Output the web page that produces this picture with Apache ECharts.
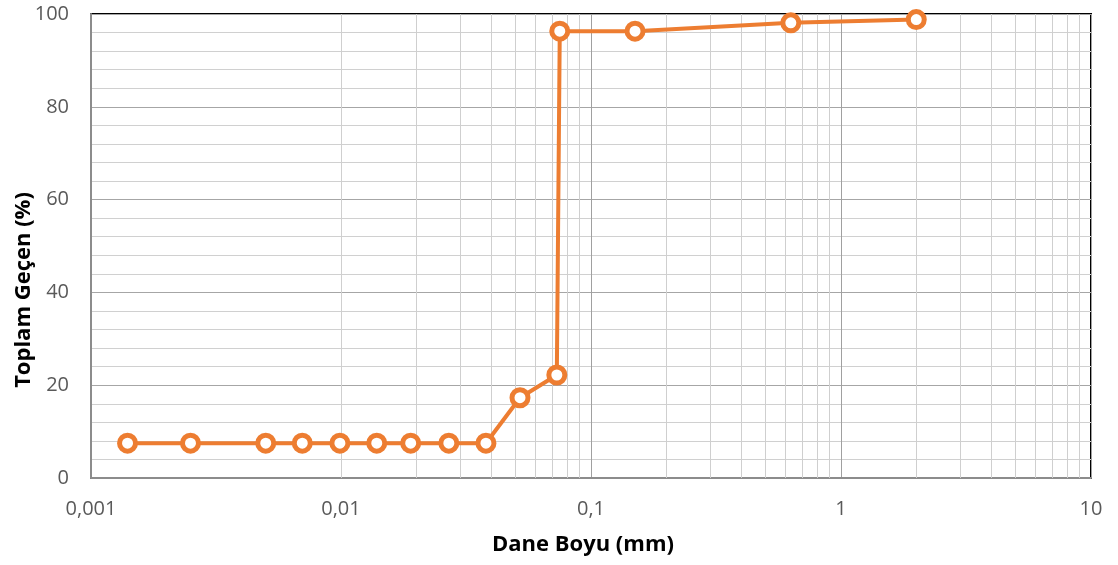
<!DOCTYPE html>
<html>
<head>
<meta charset="utf-8">
<script src="https://cdn.jsdelivr.net/npm/echarts@6/dist/echarts.min.js"></script>
<style>html,body{margin:0;padding:0;background:#fff}#c{width:1118px;height:565px}</style>
</head>
<body>
<div id="c"></div>
<script>
// Data
var grainSize = [0.0014, 0.0025, 0.005, 0.007, 0.0099, 0.0139, 0.019, 0.027, 0.038, 0.052, 0.073, 0.075, 0.15, 0.63, 2.0];
var passing   = [7.5, 7.5, 7.5, 7.5, 7.5, 7.5, 7.5, 7.5, 7.5, 17.3, 22.2, 96.3, 96.3, 98.1, 98.8];
var xTickLabels = ['0,001', '0,01', '0,1', '1', '10'];
var yTickLabels = ['0', '20', '40', '60', '80', '100'];
var xTitle = 'Dane Boyu (mm)';
var yTitle = 'Toplam Geçen (%)';
var decades = [0.001, 0.01, 0.1, 1];
var minorMultipliers = [2, 3, 4, 5, 6, 7, 8, 9];

var minorGridX = [];
decades.forEach(function (d) {
  minorMultipliers.forEach(function (m) { minorGridX.push({ xAxis: +(d * m).toPrecision(3) }); });
});

var seriesData = grainSize.map(function (x, i) { return [x, passing[i]]; });

var chart = echarts.init(document.getElementById('c'), null, { renderer: 'canvas' });
var FONT = 'Open Sans';
chart.setOption({
  animation: false,
  backgroundColor: '#fff',
  grid: { left: 91, right: 27, top: 14, bottom: 87, outerBoundsMode: 'none', containLabel: false,
          show: true, borderColor: '#000', borderWidth: 2, backgroundColor: 'transparent' },
  xAxis: {
    type: 'log', logBase: 10, min: 0.001, max: 10,
    name: xTitle, nameLocation: 'middle', nameGap: 56, nameMoveOverlap: false,
    nameTextStyle: { fontFamily: FONT, fontSize: 22, fontWeight: 'bold', color: '#000', padding: [0, 16, 0, 0] },
    axisLine: { show: true, lineStyle: { color: '#8c8c8c', width: 2 } },
    axisTick: { show: false },
    axisLabel: {
      fontFamily: FONT, fontSize: 20, color: '#595959', margin: 21,
      formatter: function (v) { var i = Math.round(Math.log10(v)) + 3; return xTickLabels[i] || ''; }
    },
    splitLine: { show: true, lineStyle: { color: '#a0a0a0', width: 1 } }
  },
  yAxis: {
    type: 'value', min: 0, max: 100, interval: 20,
    name: yTitle, nameLocation: 'middle', nameGap: 56, nameRotate: 90, nameMoveOverlap: false,
    nameTextStyle: { fontFamily: FONT, fontSize: 22, fontWeight: 'bold', color: '#000', padding: [0, 88, 0, 0] },
    axisLine: { show: true, lineStyle: { color: '#8c8c8c', width: 2 } },
    axisTick: { show: false },
    axisLabel: {
      fontFamily: FONT, fontSize: 20, color: '#595959', margin: 22,
      formatter: function (v) { return yTickLabels[Math.round(v / 20)]; }
    },
    splitLine: { show: true, lineStyle: { color: '#a6a6a6', width: 1 } },
    minorTick: { show: false, splitNumber: 5 },
    minorSplitLine: { show: true, lineStyle: { color: '#d0d0d0', width: 1 } }
  },
  series: [
    {
      type: 'line', data: [], silent: true, z: 1,
      markLine: {
        silent: true, symbol: 'none', label: { show: false },
        lineStyle: { type: 'solid', color: '#cfcfcf', width: 1 },
        emphasis: { disabled: true },
        data: minorGridX
      }
    },
    {
      type: 'line', data: seriesData, z: 5,
      lineStyle: { color: '#ED7D31', width: 4 },
      itemStyle: { color: '#fff', borderColor: '#ED7D31', borderWidth: 5 },
      symbol: 'circle', symbolSize: 16, showAllSymbol: true
    }
  ]
});
</script>
</body>
</html>
